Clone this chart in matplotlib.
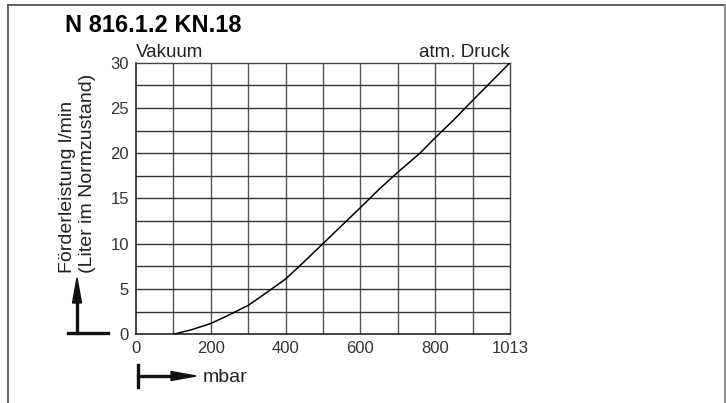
#!/usr/bin/env python3

import numpy as np
import matplotlib
matplotlib.use('Agg')
import matplotlib.pyplot as plt
from matplotlib.lines import Line2D

plt.rcParams['font.family'] = ['Liberation Sans', 'DejaVu Sans']

# curve (mbar, l/min)
pressure = [101, 150, 203, 250, 304, 350, 405, 455, 506, 557, 608, 658, 709, 769, 810, 861, 911, 962, 1013]
flow = [0.0, 0.5, 1.2, 2.1, 3.2, 4.5, 6.1, 8.0, 10.0, 12.0, 14.0, 16.0, 17.9, 20.0, 21.7, 23.7, 25.8, 27.9, 30.0]

x_labels = ['0', '200', '400', '600', '800', '1013']
y_labels = ['0', '5', '10', '15', '20', '25', '30']

W, H = 726, 403
fig = plt.figure(figsize=(W / 100, H / 100), dpi=100)
ax = fig.add_axes([136 / W, 1 - 334.3 / H, 374 / W, (334.3 - 62.7) / H])

ax.plot(pressure, flow, color='black', lw=1.1, zorder=3)

ax.set_xlim(0, 1013)
ax.set_ylim(0, 30)

# grid: 10 equal columns, rows every 2.5
for xv in np.linspace(0, 1013, 11)[1:-1]:
    ax.axvline(xv, color='#555555', lw=1.0, zorder=1)
for yv in np.arange(2.5, 30, 2.5):
    ax.axhline(yv, color='#333333', lw=1.0, zorder=1)

ax.set_xticks(np.linspace(0, 1013, 6))
ax.set_xticklabels(x_labels)
ax.set_yticks(np.arange(0, 31, 5))
ax.set_yticklabels(y_labels)
ax.tick_params(length=0, labelsize=12, colors='#333333', pad=5)

for s in ['left', 'bottom']:
    ax.spines[s].set_color('#222222')
    ax.spines[s].set_linewidth(1.2)
for s in ['top', 'right']:
    ax.spines[s].set_color('#444444')
    ax.spines[s].set_linewidth(1.0)

ax.text(0, 1.005, 'Vakuum', transform=ax.transAxes, ha='left', va='bottom', fontsize=13.5, color='#222222')
ax.text(1, 1.005, 'atm. Druck', transform=ax.transAxes, ha='right', va='bottom', fontsize=13.5, color='#222222')

fig.text(65 / W, 1 - 25 / H, 'N 816.1.2 KN.18', ha='left', va='center', fontsize=17, fontweight='bold')

# y label (two rotated lines)
fig.text(67 / W, 1 - 273 / H, 'Förderleistung l/min', rotation=90, ha='center', va='bottom', fontsize=14, color='#222222')
fig.text(88 / W, 1 - 273 / H, '(Liter im Normzustand)', rotation=90, ha='center', va='bottom', fontsize=14, color='#222222')

# L-shaped arrow for y
fig.add_artist(Line2D([68 / W, 108 / W], [1 - 333 / H, 1 - 333 / H], color='#111111', lw=2.4))
fig.add_artist(Line2D([77 / W, 77 / W], [1 - 333 / H, 1 - 300 / H], color='#111111', lw=2.4))
fig.add_artist(plt.Polygon([[77 / W, 1 - 278 / H], [72.5 / W, 1 - 303 / H], [81.5 / W, 1 - 303 / H]],
                           closed=True, color='#111111', transform=fig.transFigure))

# arrow for x
fig.add_artist(Line2D([138 / W, 138 / W], [1 - 387 / H, 1 - 365 / H], color='#111111', lw=2.4))
fig.add_artist(Line2D([138 / W, 175 / W], [1 - 376 / H, 1 - 376 / H], color='#111111', lw=2.4))
fig.add_artist(plt.Polygon([[196 / W, 1 - 376 / H], [171 / W, 1 - 371.5 / H], [171 / W, 1 - 380.5 / H]],
                           closed=True, color='#111111', transform=fig.transFigure))
fig.text(203 / W, 1 - 377 / H, 'mbar', ha='left', va='center', fontsize=14, color='#222222')

# page frame
fig.add_artist(Line2D([8 / W, 725 / W], [1 - 5 / H, 1 - 5 / H], color='#555555', lw=1.3))
fig.add_artist(Line2D([8 / W, 8 / W], [0, 1 - 5 / H], color='#555555', lw=1.3))
fig.add_artist(Line2D([725 / W, 725 / W], [0, 1 - 5 / H], color='#888888', lw=1.3))

fig.savefig('out.png', dpi=100)
